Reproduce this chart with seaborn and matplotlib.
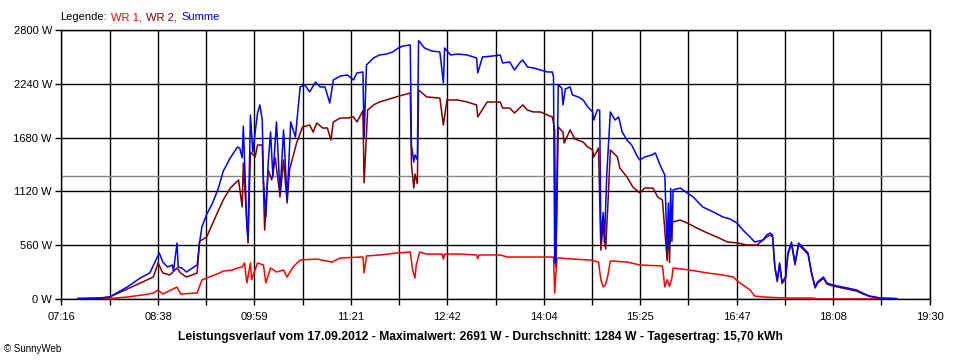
import matplotlib
matplotlib.use("Agg")
import matplotlib.pyplot as plt
import seaborn as sns
import pandas as pd
import numpy as np
from matplotlib.ticker import FixedLocator, NullFormatter

# ---------------- data (minutes since midnight, Watt) ----------------
series_names = ["WR 1", "WR 2", "Summe"]

t_wr1 = [450, 477, 492, 505, 514, 518, 522, 534, 537, 551, 555, 559, 570, 573, 581, 585,
         589, 591, 593, 596, 597, 602, 607, 609, 613, 618, 624, 627, 632, 638, 652, 665,
         672, 689, 691, 692, 694, 705, 720, 731, 733, 735, 736, 739, 745, 758, 759, 760,
         773, 787, 788, 789, 807, 813, 830, 852, 853, 855, 857, 868, 883, 890, 892, 894,
         896, 898, 900, 914, 925, 944, 946, 948, 950, 952, 953, 967, 982, 995, 1004, 1007,
         1012, 1018, 1022, 1029, 1049, 1071, 1075, 1108, 1128]
p_wr1 = [0, 5, 21, 42, 62, 94, 52, 125, 52, 62, 198, 219, 271, 291, 302, 323,
         333, 375, 167, 375, 200, 375, 354, 167, 323, 281, 302, 229, 333, 406, 416, 385,
         427, 437, 437, 271, 448, 458, 479, 489, 300, 219, 350, 489, 468, 468, 416, 468,
         468, 458, 420, 458, 458, 437, 437, 437, 62, 427, 427, 416, 406, 385, 200, 125,
         150, 250, 396, 385, 354, 344, 125, 200, 130, 220, 323, 302, 271, 250, 229, 190,
         146, 94, 31, 21, 10, 10, 0, 0, 0]

t_wr2 = [450, 469, 477, 492, 503, 514, 518, 522, 528, 534, 537, 542, 551, 553, 559, 568,
         573, 579, 586, 589, 590, 594, 596, 600, 602, 606, 608, 611, 614, 617, 621, 624,
         627, 629, 635, 640, 646, 649, 652, 657, 661, 664, 666, 672, 678, 683, 686, 691,
         692, 695, 700, 705, 711, 716, 725, 731, 732, 734, 735, 737, 738, 745, 756, 759,
         762, 771, 779, 787, 788, 796, 807, 809, 815, 819, 826, 830, 835, 841, 847, 851,
         853, 854, 856, 860, 861, 866, 870, 877, 881, 885, 886, 890, 892, 894, 896, 898,
         900, 906, 908, 914, 919, 925, 929, 936, 940, 944, 948, 949, 950, 951, 953, 959,
         965, 973, 982, 990, 999, 1008, 1015, 1024, 1032, 1035, 1037, 1039, 1041, 1043, 1045, 1048,
         1050, 1053, 1056, 1059, 1063, 1067, 1070, 1073, 1075, 1080, 1083, 1088, 1100, 1108, 1113, 1119,
         1128, 1142]
p_wr2 = [5, 10, 21, 104, 167, 229, 375, 271, 250, 323, 271, 229, 271, 600, 645, 895,
         1031, 1155, 1239, 958, 1416, 583, 1530, 1478, 1603, 1603, 718, 1343, 1239, 1468, 1062, 1447,
         999, 1343, 1624, 1790, 1811, 1738, 1832, 1780, 1780, 1655, 1843, 1884, 1884, 1895, 1843, 1960,
         1208, 1967, 2020, 2051, 2072, 2092, 2124, 2144, 1400, 1155, 1300, 1200, 2176, 2103, 2092, 1811,
         2072, 2072, 2051, 2020, 1895, 2051, 2051, 1988, 1988, 1936, 2020, 1967, 1947, 1947, 1915, 1895,
         1759, 333, 1790, 1738, 1624, 1759, 1666, 1634, 1582, 1551, 1478, 1572, 510, 800, 520, 1000,
         1551, 1478, 1364, 1270, 1166, 1103, 1155, 1155, 1062, 1031, 400, 800, 380, 900, 802, 822,
         791, 739, 687, 645, 593, 583, 562, 562, 645, 666, 645, 320, 180, 360, 160, 210,
         460, 575, 355, 565, 515, 465, 260, 115, 165, 215, 155, 135, 104, 83, 55, 26,
         8, 3]

t_sum = [450, 469, 477, 492, 503, 511, 515, 519, 522, 526, 530, 531, 534, 535, 538, 542,
         547, 551, 553, 555, 559, 564, 569, 573, 579, 585, 587, 589, 590, 593, 594, 596,
         598, 602, 604, 606, 607, 609, 611, 613, 615, 618, 621, 624, 627, 630, 634, 638,
         642, 646, 651, 655, 659, 663, 666, 672, 678, 683, 686, 691, 692, 694, 700, 705,
         711, 716, 721, 725, 731, 732, 734, 735, 737, 738, 743, 749, 756, 759, 760, 765,
         771, 779, 787, 788, 792, 801, 807, 809, 815, 819, 824, 826, 830, 835, 841, 847,
         851, 852, 853, 854, 856, 859, 860, 862, 866, 868, 873, 877, 881, 885, 886, 889,
         891, 892, 894, 895, 897, 900, 904, 907, 910, 914, 918, 923, 925, 929, 935, 938,
         942, 944, 946, 948, 949, 950, 951, 952, 953, 959, 965, 970, 978, 987, 995, 1001,
         1007, 1012, 1018, 1022, 1029, 1032, 1035, 1037, 1039, 1041, 1043, 1045, 1048, 1050, 1053, 1056,
         1059, 1063, 1067, 1070, 1073, 1075, 1080, 1083, 1088, 1100, 1108, 1113, 1119, 1128, 1142]
p_sum = [5, 10, 21, 125, 219, 271, 375, 479, 385, 333, 354, 291, 583, 333, 323, 281,
         323, 354, 583, 750, 880, 999, 1155, 1330, 1468, 1582, 1570, 1470, 1800, 750, 645, 1915,
         1530, 1936, 2020, 1863, 1239, 854, 1416, 1738, 1270, 1843, 1103, 1759, 1031, 1843, 1686, 2207,
         2228, 2155, 2259, 2207, 2207, 2040, 2280, 2321, 2332, 2280, 2353, 2363, 1676, 2436, 2509, 2540,
         2550, 2571, 2613, 2634, 2644, 1600, 1426, 1500, 1450, 2691, 2613, 2582, 2571, 2249, 2613, 2540,
         2550, 2540, 2509, 2353, 2519, 2530, 2540, 2457, 2467, 2384, 2467, 2488, 2415, 2405, 2384, 2363,
         2363, 2311, 375, 400, 2228, 2196, 2020, 2187, 2207, 2124, 2103, 2072, 1999, 1947, 1863, 1967,
         1967, 614, 900, 583, 1300, 1947, 1863, 1895, 1738, 1655, 1603, 1478, 1447, 1478, 1499, 1520,
         1395, 1343, 1291, 500, 1000, 520, 1150, 600, 1135, 1155, 1103, 1062, 958, 906, 854, 833,
         791, 718, 645, 593, 614, 666, 687, 666, 333, 198, 375, 177, 229, 479, 593, 375,
         583, 531, 479, 271, 125, 177, 229, 167, 146, 115, 94, 62, 31, 10, 5]

avg_value = 1284
x_labels = ["07:16", "08:38", "09:59", "11:21", "12:42", "14:04", "15:25", "16:47", "18:08", "19:30"]
y_ticks = [0, 560, 1120, 1680, 2240, 2800]
title_text = ("Leistungsverlauf vom 17.09.2012 - Maximalwert: 2691 W - "
              "Durchschnitt: 1284 W - Tagesertrag: 15,70 kWh")
legend_prefix = "Legende: "
copyright_text = "© SunnyWeb"

colors = {"WR 1": "#ff0000", "WR 2": "#800000", "Summe": "#0000ff"}

# ---------------- build long table ----------------
frames = []
for name, t, p in [("WR 1", t_wr1, p_wr1), ("WR 2", t_wr2, p_wr2), ("Summe", t_sum, p_sum)]:
    frames.append(pd.DataFrame({"t": t, "P": p, "serie": name}))
df = pd.concat(frames, ignore_index=True)

sns.set_theme(style="white")
plt.rcParams["font.family"] = ["Liberation Sans", "DejaVu Sans"]

fig = plt.figure(figsize=(9.6, 3.6), dpi=100)
fig.patch.set_facecolor("white")
ax = fig.add_axes([61 / 960, 61 / 360, 869 / 960, 269 / 360])

def to_min(s):
    h, m = s.split(":")
    return int(h) * 60 + int(m)

xmajor = [to_min(s) for s in x_labels]
xminor = [(a + b) / 2 for a, b in zip(xmajor[:-1], xmajor[1:])]

ax.set_xlim(xmajor[0], xmajor[-1])
ax.set_ylim(0, 2800)

# grid
for xv in xmajor + xminor:
    ax.axvline(xv, color="black", lw=1.0, zorder=1)
for yv in y_ticks:
    ax.axhline(yv, color="black", lw=1.0, zorder=1)
ax.axhline(avg_value, color="#888888", lw=1.0, zorder=1.5)

for name in ["WR 1", "WR 2", "Summe"]:
    sns.lineplot(data=df[df["serie"] == name], x="t", y="P", color=colors[name],
                 lw=1.1, estimator=None, sort=False, ax=ax, legend=False, zorder=3)

ax.set_xlabel("")
ax.set_ylabel("")
ax.xaxis.set_major_locator(FixedLocator(xmajor))
ax.xaxis.set_minor_locator(FixedLocator(xminor))
ax.set_xticklabels(x_labels)
ax.xaxis.set_minor_formatter(NullFormatter())
ax.set_yticks(y_ticks)
ax.set_yticklabels([f"{v} W" for v in y_ticks])
ax.tick_params(axis="both", which="both", direction="out", length=4.5, width=1.0,
               color="black", labelsize=8, labelcolor="black", bottom=True, left=True)
ax.tick_params(axis="x", which="major", pad=5)
ax.tick_params(axis="y", which="major", pad=2)
for s in ax.spines.values():
    s.set_color("black")
    s.set_linewidth(1.0)

# legend text in colours
fig.canvas.draw()
renderer = fig.canvas.get_renderer()
x0 = 60 / 960
y0 = 1 - 17 / 360
parts = [(legend_prefix, "black"), ("WR 1, ", colors["WR 1"]),
         ("WR 2, ", colors["WR 2"]), ("Summe", colors["Summe"])]
for txt, col in parts:
    t = fig.text(x0, y0, txt.rstrip(" "), color=col, fontsize=8, va="center", ha="left")
    bb = t.get_window_extent(renderer=renderer)
    x0 += (bb.width + (4.5 if txt.endswith(" ") else 0)) / 960

fig.text(480 / 960, 1 - 337 / 360, title_text, fontsize=8.7, fontweight="bold",
         ha="center", va="center", color="black")
fig.text(4 / 960, 1 - 349 / 360, copyright_text, fontsize=7, ha="left", va="center",
         color="black")

fig.savefig("out.png", dpi=100, facecolor="white")
